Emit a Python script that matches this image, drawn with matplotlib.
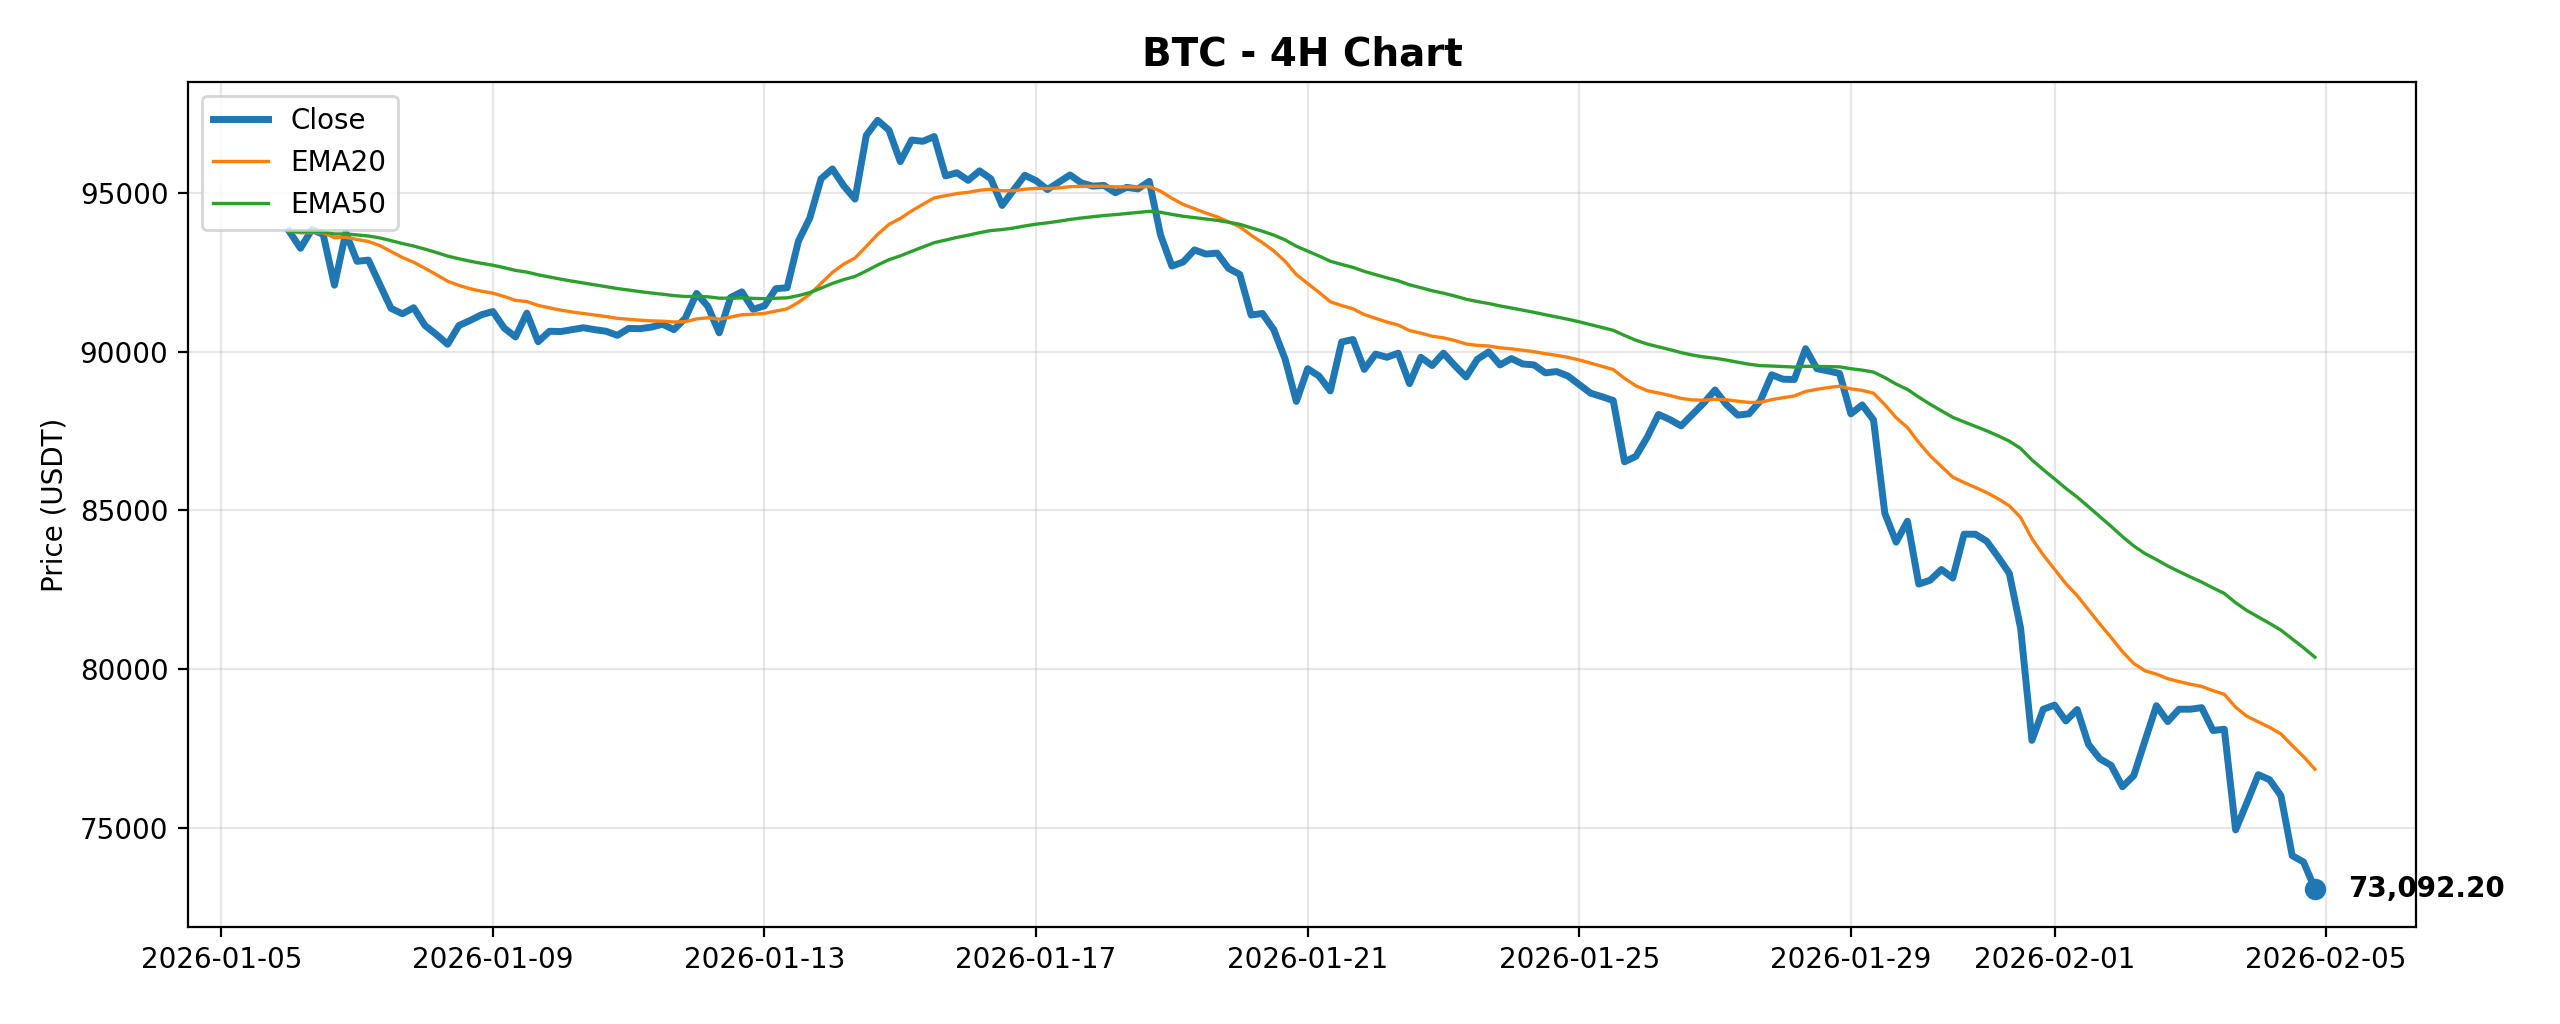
import matplotlib as mpl
mpl.use('Agg')
import matplotlib.pyplot as plt
import pandas as pd

symbol = "BTC"
timeframe = "4H"
start = "2026-01-06 00:00"

# 4h closes, 6 days (36 candles) per list
close_a = [93790, 93250, 93840, 93690, 92090, 93740, 92840, 92880, 92120, 91360, 91190, 91380,
           90820, 90540, 90230, 90820, 90980, 91160, 91260, 90740, 90460, 91210, 90310, 90640,
           90630, 90690, 90750, 90690, 90640, 90510, 90730, 90720, 90770, 90860, 90690, 91050]
close_b = [91830, 91420, 90590, 91700, 91880, 91330, 91440, 91980, 92010, 93480, 94200, 95440,
           95750, 95220, 94800, 96810, 97280, 96970, 95980, 96660, 96620, 96770, 95530, 95630,
           95390, 95690, 95440, 94600, 95080, 95550, 95380, 95100, 95330, 95560, 95310, 95210]
close_c = [95230, 95000, 95170, 95120, 95360, 93670, 92690, 92820, 93200, 93070, 93100, 92620,
           92430, 91150, 91200, 90690, 89770, 88430, 89460, 89230, 88760, 90300, 90380, 89440,
           89920, 89820, 89950, 88990, 89820, 89560, 89950, 89560, 89200, 89760, 89990, 89580]
close_d = [89780, 89610, 89580, 89330, 89370, 89230, 88960, 88690, 88580, 88460, 86530, 86700,
           87300, 88020, 87860, 87660, 88020, 88380, 88790, 88330, 88000, 88040, 88450, 89270,
           89130, 89120, 90090, 89460, 89390, 89310, 88040, 88320, 87850, 84910, 84000, 84660]
close_e = [82680, 82800, 83140, 82870, 84250, 84250, 84030, 83540, 83020, 81290, 77760, 78740,
           78870, 78370, 78730, 77630, 77180, 76970, 76300, 76650, 77760, 78850, 78350, 78740,
           78740, 78790, 78070, 78110, 74940, 75800, 76680, 76520, 76020, 74130, 73930, 73092.20]

closes = close_a + close_b + close_c + close_d + close_e
df = pd.DataFrame({"close": closes},
                  index=pd.date_range(start, periods=len(closes), freq="4h"))
df["ema20"] = df["close"].ewm(span=20, adjust=False).mean()
df["ema50"] = df["close"].ewm(span=50, adjust=False).mean()

fig, ax = plt.subplots(figsize=(12.8, 5.12))
fig.subplots_adjust(left=0.0734, right=0.9438, bottom=0.0947, top=0.92)

ax.plot(df.index, df["close"], label="Close", color="#1f77b4", linewidth=2.5)
ax.plot(df.index, df["ema20"], label="EMA20", color="#ff7f0e", linewidth=1.2)
ax.plot(df.index, df["ema50"], label="EMA50", color="#2ca02c", linewidth=1.2)

# last price marker + label
last_t = df.index[-1]
last_p = df["close"].iloc[-1]
ax.scatter([last_t], [last_p], color="#1f77b4", s=45, zorder=5)
ax.annotate(f"{last_p:,.2f}", (last_t, last_p), xytext=(12, 0), textcoords="offset points",
            va="center", ha="left", fontweight="bold", fontsize=10)

ax.set_title(f"{symbol} - {timeframe} Chart", fontsize=14, fontweight="bold")
ax.set_ylabel("Price (USDT)")
ax.grid(True, alpha=0.3)
ax.legend(loc="upper left")

fig.savefig("out.png", dpi=200)
